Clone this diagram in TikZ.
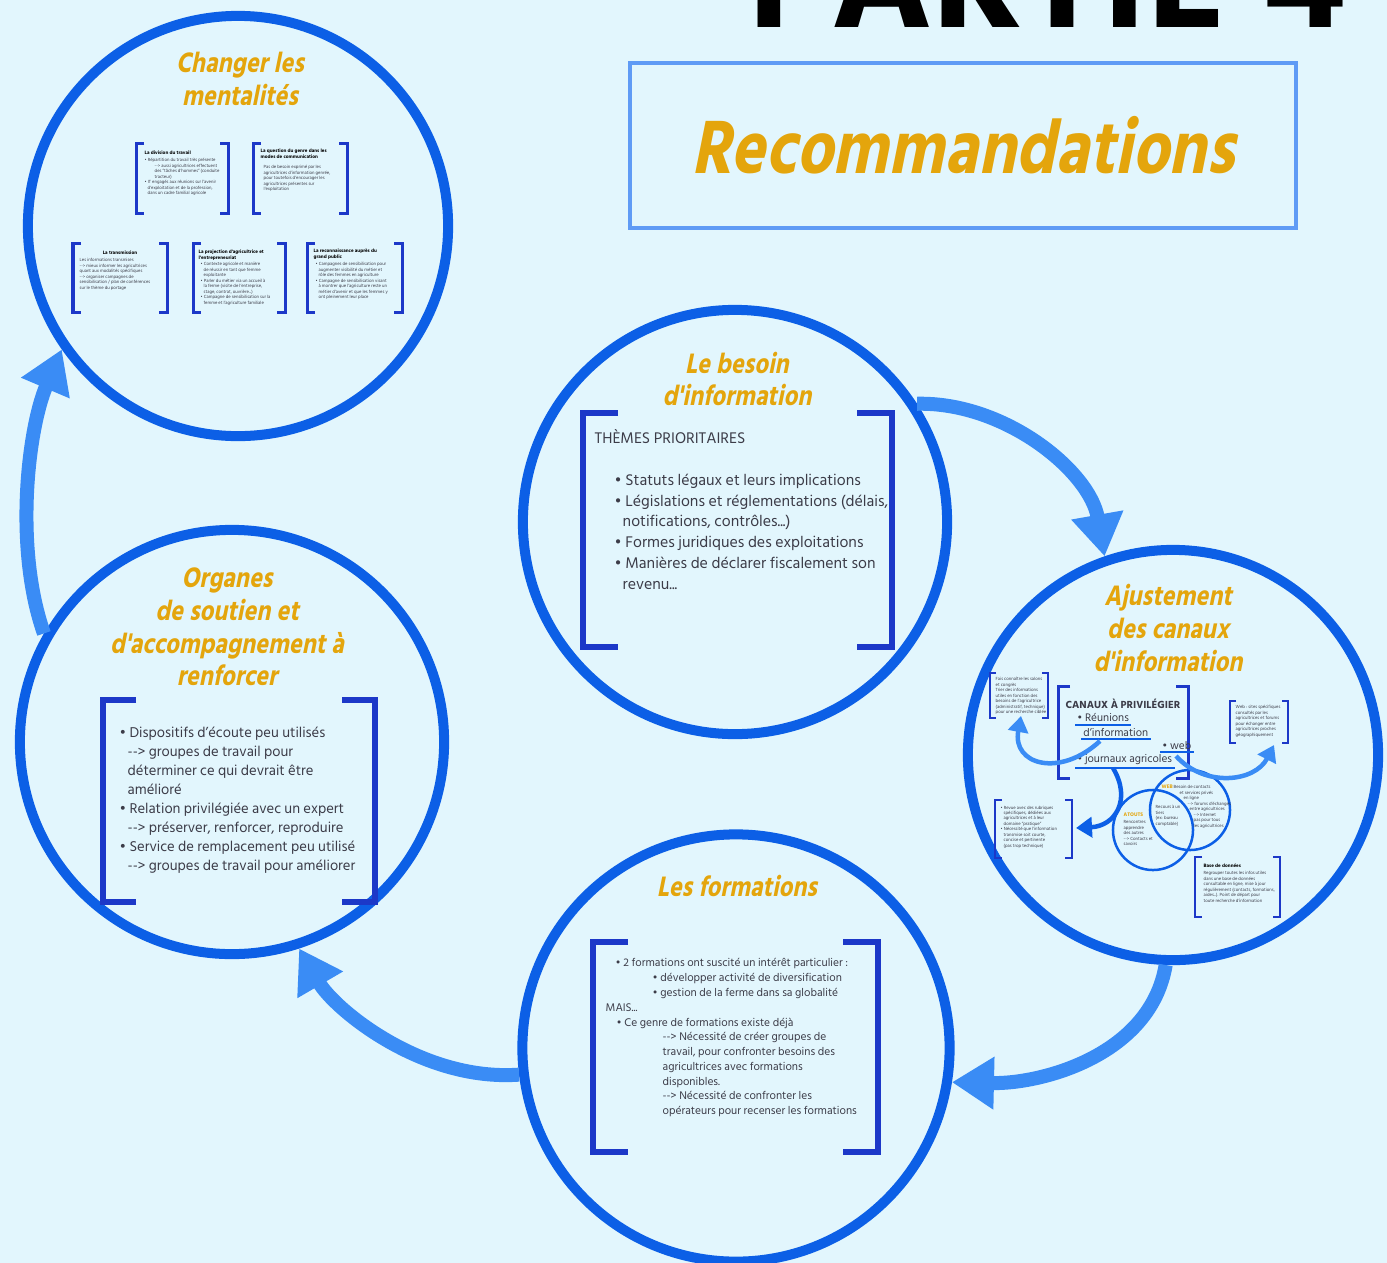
\documentclass[tikz,border=0pt]{standalone}
\usepackage{fontspec}
\setmainfont{Hind Siliguri}
\newfontfamily\hindbold{Hind Siliguri Bold}
\newfontfamily\ttlfnt[FakeSlant=0.2,FakeStretch=0.84]{Hind Siliguri Bold}
\usetikzlibrary{arrows.meta}
\definecolor{bg}{RGB}{226,246,253}
\definecolor{ring}{RGB}{12,95,230}
\definecolor{arr}{RGB}{58,140,245}
\definecolor{brk}{RGB}{28,56,200}
\definecolor{org}{RGB}{228,165,12}
\definecolor{txt}{RGB}{60,60,72}
\definecolor{tbox}{RGB}{95,155,245}
\newcommand{\bu}{\textbullet\ }
\newcommand{\arw}{-{}->\ }
\newcommand{\hsk}[1]{\hspace*{#1cm}}
\newcommand{\bpair}[6]{%
  \draw[#6] (#1+#5,#2) -- (#1,#2) -- (#1,#4) -- (#1+#5,#4);
  \draw[#6] (#3-#5,#2) -- (#3,#2) -- (#3,#4) -- (#3-#5,#4);}
\tikzset{
  bigc/.style={circle, draw=ring, line width=0.1cm, inner sep=0},
  flow/.style={draw=arr, line width=0.14cm, -{Triangle[width=0.5cm,length=0.42cm]}},
  iarr/.style={draw=arr, line width=0.045cm, -{Triangle[width=0.2cm,length=0.16cm]}},
  darr/.style={draw=ring, line width=0.045cm, -{Triangle[width=0.2cm,length=0.16cm]}},
  bigbrk/.style={draw=brk, line width=0.06cm},
  smbrk/.style={draw=brk, line width=0.03cm},
  tnbrk/.style={draw=brk, line width=0.02cm},
  ctitle/.style={font=\ttlfnt\fontsize{8.2}{9.3}\selectfont, text=org, align=center, inner sep=0},
  body/.style={text=txt, align=left, inner sep=0, anchor=north west},
  tiny/.style={text=txt, align=left, inner sep=0, anchor=north west, font=\fontsize{1.3}{1.55}\selectfont},
  tinyt/.style={text=black, align=left, inner sep=0, anchor=north west, font=\hindbold\fontsize{1.4}{1.7}\selectfont},
  inner/.style={anchor=west, inner sep=0.5pt, text=txt, font=\fontsize{3.2}{4}\selectfont},
  ul/.style={draw=ring, line width=0.02cm},
}
\begin{document}
\begin{tikzpicture}[x=0.01cm,y=-0.01cm]
\fill[bg] (0,0) rectangle (1387,1263);
\useasboundingbox (0,0) rectangle (1387,1263);
\clip (0,0) rectangle (1387,1263);

% heading
\node[anchor=base west, inner sep=0, font=\hindbold] (partie) at (748,27) {\resizebox{5.97cm}{!}{PARTIE 4}};
\node[draw=tbox, line width=0.04cm, minimum width=6.66cm, minimum height=1.65cm, inner sep=0,
      text=org, font=\ttlfnt\fontsize{22}{22}\selectfont] (reco) at (963,145.5) {Recommandations};

% circles
\node[bigc, minimum size=4.2cm] (c1) at (238,226) {};
\node[bigc, minimum size=4.24cm] (c2) at (735,522) {};
\node[bigc, minimum size=4.1cm] (c3) at (1173,755) {};
\node[bigc, minimum size=4.27cm] (c4) at (736,1048) {};
\node[bigc, minimum size=4.24cm] (c5) at (232,742) {};

% flow arrows
\draw[flow] (c2.33) .. controls +(88,-2) and +(-15,-85) .. (c3.109);
\draw[flow] (c3.268) .. controls +(-15,90) and +(90,2) .. (c4.-9);
\draw[flow] (c4.187) .. controls +(-98,7) and +(35,60) .. (c5.-72);
\draw[flow] (c5.150) .. controls +(-30,-85) and +(-34,80) .. (c1.215);

% titles
\node[ctitle] (t1) at (240,79) {Changer les\\mentalités};
\node[ctitle] (t2) at (737,379) {Le besoin\\d'information};
\node[ctitle] (t3) at (1168,628) {Ajustement\\des canaux\\d'information};
\node[ctitle] (t4) at (737,886) {Les formations};
\node[ctitle] (t5) at (227,627) {Organes\\de soutien et\\d'accompagnement à\\renforcer};

% circle 2 content
\bpair{583}{413}{892}{647}{35}{bigbrk}
\node[body, font=\fontsize{4.5}{5.92}\selectfont] (b2) at (594,429) {THÈMES PRIORITAIRES\\[5.92pt]
\hsk{0.2}\bu Statuts légaux et leurs implications\\
\hsk{0.2}\bu Législations et réglementations (délais,\\
\hsk{0.28}notifications, contrôles...)\\
\hsk{0.2}\bu Formes juridiques des exploitations\\
\hsk{0.2}\bu Manières de déclarer fiscalement son\\
\hsk{0.28}revenu...};

% circle 5 content
\bpair{103}{700}{375}{902}{33}{bigbrk}
\node[body, font=\fontsize{4.15}{5.43}\selectfont] (b5) at (119,726) {\bu Dispositifs d'écoute peu utilisés\\
\hsk{0.08}\arw groupes de travail pour\\
\hsk{0.08}déterminer ce qui devrait être\\
\hsk{0.08}amélioré\\
\bu Relation privilégiée avec un expert\\
\hsk{0.08}\arw préserver, renforcer, reproduire\\
\bu Service de remplacement peu utilisé\\
\hsk{0.08}\arw groupes de travail pour améliorer};

% circle 4 content
\bpair{593}{942}{878}{1152}{35}{bigbrk}
\node[body, font=\fontsize{3.25}{4.2}\selectfont] (b4) at (605,958) {\hsk{0.1}\bu 2 formations ont suscité un intérêt particulier :\\
\hsk{0.47}\bu développer activité de diversification\\
\hsk{0.47}\bu gestion de la ferme dans sa globalité\\
MAIS...\\
\hsk{0.11}\bu Ce genre de formations existe déjà\\
\hsk{0.57}\arw Nécessité de créer groupes de\\
\hsk{0.57}travail, pour confronter besoins des\\
\hsk{0.57}agricultrices avec formations\\
\hsk{0.57}disponibles.\\
\hsk{0.57}\arw Nécessité de confronter les\\
\hsk{0.57}opérateurs pour recenser les formations};

% circle 1 content (small boxes)
\bpair{136}{143}{228}{213}{8}{smbrk}
\node[tinyt] (ta) at (144,150) {La division du travail};
\node[tiny] (ba) at (144,158) {\bu Répartition du travail très présente\\
\hsk{0.1}\arw aussi agricultrices effectuent\\
\hsk{0.1}des "tâches d'hommes" (conduite\\
\hsk{0.1}tracteur)\\
\bu IT engagés aux réunions sur l'avenir\\
\hsk{0.03}d'exploitation et de la profession,\\
\hsk{0.03}dans un cadre familial agricole};
\bpair{253}{143}{347}{213}{8}{smbrk}
\node[tinyt] (tb) at (260,148) {La question du genre dans les\\modes de communication};
\node[tiny] (bb) at (263,165) {Pas de besoin exprimé par les\\
agricultrices d'information genrée,\\
pour toutefois d'encourager les\\
agricultrices présentes sur\\
l'exploitation};
\bpair{73}{243}{167}{312}{8}{smbrk}
\node[tinyt, anchor=north] (tc) at (120,250) {La transmission};
\node[tiny] (bc) at (79,258) {Les informations transmises\\
\arw mieux informer les agricultrices\\
quant aux modalités spécifiques\\
\arw organiser campagnes de\\
sensibilisation / plan de conférences\\
sur le thème du portage};
\bpair{193}{243}{285}{312}{8}{smbrk}
\node[tinyt] (td) at (198,249) {La projection d'agricultrice et\\l'entrepreneuriat};
\node[tiny] (bd) at (200,262) {\bu Contexte agricole et manière\\
\hsk{0.03}de réussir en tant que femme\\
\hsk{0.03}exploitante\\
\bu Parler du métier via un accueil à\\
\hsk{0.03}la ferme (visite de l'entreprise,\\
\hsk{0.03}stage, contrat, ouvrière...)\\
\bu Campagne de sensibilisation sur la\\
\hsk{0.03}femme et l'agriculture familiale};
\bpair{307}{243}{402}{312}{8}{smbrk}
\node[tinyt] (te) at (313,248) {La reconnaissance auprès du\\grand public};
\node[tiny] (be) at (315,262) {\bu Campagnes de sensibilisation pour\\
\hsk{0.03}augmenter visibilité du métier et\\
\hsk{0.03}rôle des femmes en agriculture\\
\bu Campagne de sensibilisation visant\\
\hsk{0.03}à montrer que l'agriculture reste un\\
\hsk{0.03}métier d'avenir et que les femmes y\\
\hsk{0.03}ont pleinement leur place};

% circle 3 content
\bpair{1058}{686}{1188}{778}{12}{smbrk}
\node[anchor=west, inner sep=0, text=txt, font=\hindbold\fontsize{3.0}{4}\selectfont] (canaux) at (1065,704) {CANAUX À PRIVILÉGIER};
\node[inner] (reu) at (1075,718) {\bu Réunions};
\node[inner] (dinf) at (1081,732) {d'information};
\node[inner] (web) at (1160,746) {\bu web};
\node[inner] (jour) at (1075,760) {\bu journaux agricoles};
\draw[ul] (reu.south west) -- (reu.south east);
\draw[ul] (dinf.south west) -- (dinf.south east);
\draw[ul] (web.south west) -- (web.south east);
\draw[ul] (jour.south west) -- (jour.south east);

\node[circle, draw=ring, line width=0.025cm, minimum size=0.8cm, inner sep=0] (v1) at (1153,830) {};
\node[circle, draw=ring, line width=0.025cm, minimum size=0.8cm, inner sep=0] (v2) at (1190,810) {};
\node[anchor=west, inner sep=0, text=org, font=\hindbold\fontsize{1.5}{1.8}\selectfont] (atouts) at (1123,815) {ATOUTS};
\node[tiny] (vl) at (1123,820) {Rencontres\\apprendre\\des autres\\\arw Contacts et\\savoirs};
\node[tiny] (vc) at (1155,805) {Recours à un\\tiers\\(ex: bureau\\comptable)};
\node[anchor=west, inner sep=0, text=org, font=\hindbold\fontsize{1.5}{1.8}\selectfont] (wlab) at (1161,787) {WEB};
\node[tiny] (vr) at (1173,785) {Besoin de contacts\\
\hsk{0.06}et services privés\\
\hsk{0.1}en ligne\\
\hsk{0.14}\arw forums d'échanges\\
\hsk{0.16}entre agricultrices\\
\hsk{0.2}\arw Internet\\
\hsk{0.2}pas pour tous\\
\hsk{0.2}les agricultrices};

\bpair{990}{673}{1048}{718}{6}{tnbrk}
\node[tiny] (sb1) at (995,677) {Fais connaître les salons\\et congrès\\Trier des informations\\utiles en fonction des\\besoins de l'agricultrice\\(administratif, technique)\\pour une recherche ciblée};
\bpair{1230}{701}{1288}{743}{6}{tnbrk}
\node[tiny] (sb2) at (1235,705) {Web : sites spécifiques\\consultés par les\\agricultrices et forums\\pour échanger entre\\agricultrices proches\\géographiquement};
\bpair{995}{800}{1072}{858}{7}{tnbrk}
\node[tiny] (sb3) at (1000,805) {\bu Revue avec des rubriques\\
\hsk{0.03}spécifiques, dédiées aux\\
\hsk{0.03}agricultrices et à leur\\
\hsk{0.03}domaine "pratique"\\
\bu Nécessité que l'information\\
\hsk{0.03}transmise soit courte,\\
\hsk{0.03}concise et pertinente\\
\hsk{0.03}(pas trop technique)};
\bpair{1195}{857}{1280}{917}{7}{tnbrk}
\node[tinyt] (sb4t) at (1203,863) {Base de données};
\node[tiny] (sb4) at (1203,871) {Regrouper toutes les infos utiles\\dans une base de données\\consultable en ligne, mise à jour\\régulièrement (contacts, formations,\\aides...). Point de départ pour\\toute recherche d'information};

\coordinate (e1) at (1021,716);
\coordinate (s1) at (1100,741);
\coordinate (e2) at (1274,745);
\coordinate (s2) at (1176,756);
\coordinate (e3) at (1076,828);
\coordinate (s3) at (1113,768);
\draw[iarr] (s1) .. controls (1060,778) and (1012,765) .. (e1);
\draw[iarr] (s2) .. controls (1205,788) and (1255,782) .. (e2);
\draw[darr] (s3) .. controls (1132,800) and (1115,826) .. (e3);
\end{tikzpicture}
\end{document}
